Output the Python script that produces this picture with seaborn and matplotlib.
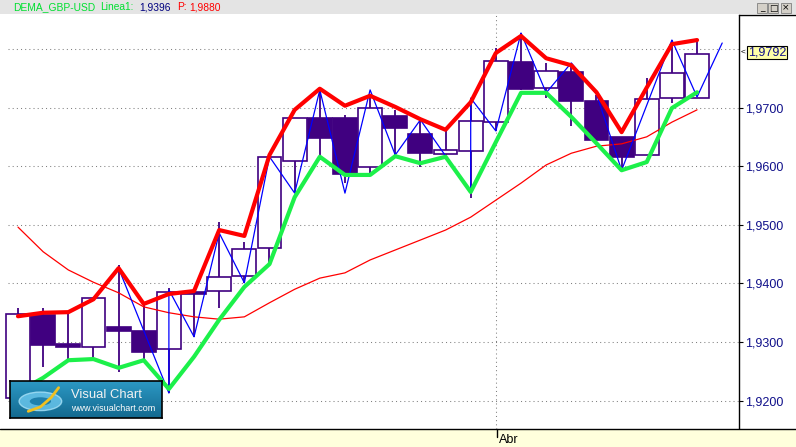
import numpy as np
import pandas as pd
import seaborn as sns
import matplotlib.pyplot as plt
from matplotlib.patches import Rectangle, Ellipse
from matplotlib.lines import Line2D
from matplotlib.ticker import FuncFormatter

# ---- data (GBP-USD daily bars) ----
opens = [1.9205, 1.9346, 1.9297, 1.9292, 1.9326, 1.9319, 1.9288, 1.9385, 1.9387, 1.9413,
         1.9460, 1.9609, 1.9682, 1.9682, 1.9599, 1.9686, 1.9655, 1.9621, 1.9626, 1.9675,
         1.9778, 1.9733, 1.9761, 1.9711, 1.9650, 1.9619, 1.9716, 1.9716]
highs = [1.9358, 1.9358, 1.9351, 1.9376, 1.9431, 1.9363, 1.9392, 1.9389, 1.9505, 1.9471,
         1.9616, 1.9682, 1.9730, 1.9687, 1.9721, 1.9696, 1.9679, 1.9662, 1.9716, 1.9801,
         1.9827, 1.9776, 1.9776, 1.9721, 1.9650, 1.9750, 1.9815, 1.9815]
lows = [1.9203, 1.9257, 1.9269, 1.9271, 1.9249, 1.9269, 1.9213, 1.9309, 1.9358, 1.9401,
        1.9435, 1.9554, 1.9610, 1.9571, 1.9589, 1.9619, 1.9599, 1.9619, 1.9546, 1.9660,
        1.9730, 1.9716, 1.9668, 1.9645, 1.9592, 1.9619, 1.9708, 1.9716]
closes = [1.9348, 1.9295, 1.9292, 1.9375, 1.9319, 1.9283, 1.9385, 1.9382, 1.9411, 1.9459,
          1.9616, 1.9682, 1.9648, 1.9587, 1.9699, 1.9665, 1.9622, 1.9628, 1.9677, 1.9779,
          1.9732, 1.9762, 1.9711, 1.9645, 1.9616, 1.9714, 1.9759, 1.9792]

dema_upper = [1.9344, 1.9350, 1.9351, 1.9373, 1.9426, 1.9365, 1.9382, 1.9387, 1.9491, 1.9481,
              1.9619, 1.9696, 1.9732, 1.9703, 1.9720, 1.9701, 1.9680, 1.9662, 1.9709, 1.9793,
              1.9822, 1.9784, 1.9772, 1.9726, 1.9658, 1.9734, 1.9808, 1.9815]
dema_lower = [1.9215, 1.9239, 1.9269, 1.9271, 1.9256, 1.9269, 1.9220, 1.9275, 1.9338, 1.9394,
              1.9433, 1.9547, 1.9616, 1.9585, 1.9585, 1.9617, 1.9605, 1.9616, 1.9556, 1.9641,
              1.9725, 1.9725, 1.9684, 1.9639, 1.9593, 1.9607, 1.9699, 1.9726]
dema_mid = [1.9496, 1.9454, 1.9423, 1.9402, 1.9384, 1.9360, 1.9350, 1.9343, 1.9339, 1.9343,
            1.9367, 1.9390, 1.9409, 1.9418, 1.9440, 1.9457, 1.9474, 1.9491, 1.9513, 1.9542,
            1.9571, 1.9602, 1.9622, 1.9634, 1.9638, 1.9650, 1.9675, 1.9696]

# Linea1 zigzag: bar position and price of each turning point
linea_bar = [4, 6, 6, 7, 8, 9, 10, 11, 12, 13, 14, 15, 16, 18, 18, 19, 20, 21, 22, 23, 24, 26, 27, 28]
linea_val = [1.9426, 1.9213, 1.9389, 1.9309, 1.9486, 1.9401, 1.9616, 1.9554, 1.9730, 1.9554,
             1.9730, 1.9619, 1.9679, 1.9556, 1.9716, 1.9660, 1.9827, 1.9725, 1.9776, 1.9723,
             1.9593, 1.9815, 1.9718, 1.9810]

month_bar = 19
month_label = "Abr"
price_ticks = [1.92, 1.93, 1.94, 1.95, 1.96, 1.97]
grid_levels = [1.92, 1.93, 1.94, 1.95, 1.96, 1.97, 1.98]
last_price = closes[-1]

PURPLE = "#400080"
W, H = 796, 447
BOTTOM = 429  # pixel row of the date axis line

sns.set_style("white")
plt.rcParams["font.family"] = ["Liberation Sans", "DejaVu Sans"]


def fx(x):
    return x / W


def fy(y):
    return 1 - y / H


fig = plt.figure(figsize=(W / 100, H / 100), dpi=100)
fig.patch.set_facecolor("white")

# title strip and date strip
fig.patches.append(Rectangle((0, fy(14)), 1, 14 / H, transform=fig.transFigure,
                             facecolor="#e4e4e4", edgecolor="none", zorder=0))
fig.patches.append(Rectangle((0, 0), 1, (H - BOTTOM) / H, transform=fig.transFigure,
                             facecolor="#ffffdc", edgecolor="none", zorder=0))

ax = fig.add_axes([0, (H - BOTTOM) / H, 739 / W, (BOTTOM - 15) / H])
ax.set_facecolor("white")

# pixel layout: bar i sits at x = 18 + 25.15*i, price 1.92 at row 400.7, 5864 px per unit
step = 25.15
ax.set_xlim(-18 / step, (739 - 18) / step)
ax.set_ylim(1.92 + (400.7 - BOTTOM) / 5864, 1.92 + (400.7 - 15) / 5864)

# grid
ax.hlines(grid_levels, -10 / step, (739 - 18) / step, colors="#808080",
          linestyles=(0, (1, 3)), lw=0.75, zorder=1)
ax.axvline(month_bar, color="#808080", ls=(0, (1, 3)), lw=0.75, zorder=1)

# candles
df = pd.DataFrame({"o": opens, "h": highs, "l": lows, "c": closes})
df["i"] = np.arange(len(df))
up = df["c"] >= df["o"]
ax.vlines(df["i"], df["l"], df["h"], color=PURPLE, lw=1.3, zorder=2)
ax.bar(df["i"][up], (df["c"] - df["o"])[up], bottom=df["o"][up], width=0.95,
       facecolor="white", edgecolor=PURPLE, lw=1.2, zorder=2.5)
ax.bar(df["i"][~up], (df["c"] - df["o"])[~up], bottom=df["o"][~up], width=0.95,
       facecolor=PURPLE, edgecolor=PURPLE, lw=1.2, zorder=2.5)

# indicator lines
sns.lineplot(x=df["i"], y=dema_mid, ax=ax, color="#ff0000", lw=0.9, zorder=3)
sns.lineplot(x=linea_bar, y=linea_val, ax=ax, color="#0000ff", lw=0.9,
             sort=False, estimator=None, zorder=4)
sns.lineplot(x=df["i"], y=dema_lower, ax=ax, color="#1cf04a", lw=3.0, zorder=5)
sns.lineplot(x=df["i"], y=dema_upper, ax=ax, color="#ff0000", lw=3.0, zorder=6)

# axes styling
for s in ["left", "top", "bottom"]:
    ax.spines[s].set_visible(False)
ax.spines["right"].set_color("black")
ax.spines["right"].set_linewidth(1.0)
ax.yaxis.tick_right()
ax.set_yticks(price_ticks)
ax.yaxis.set_major_formatter(FuncFormatter(lambda v, p: f"{v:.4f}".replace(".", ",")))
ax.tick_params(axis="y", length=3, width=0.8, color="black", labelcolor="#10108a",
               labelsize=9, pad=1.5)
ax.set_xticks([])
ax.set_xlabel("")
ax.set_ylabel("")

# frame lines
fig.add_artist(Line2D([0, 1], [fy(BOTTOM), fy(BOTTOM)], color="black", lw=1.0,
                      transform=fig.transFigure))
fig.add_artist(Line2D([fx(739), 1], [fy(15), fy(15)], color="black", lw=1.0,
                      transform=fig.transFigure))
fig.add_artist(Line2D([fx(497), fx(497)], [fy(BOTTOM), fy(BOTTOM + 8)], color="black", lw=1.0,
                      transform=fig.transFigure))
fig.text(fx(498.5), fy(440), month_label, fontsize=9, color="black", va="center", ha="left")

# title
title_parts = [("DEMA_GBP-USD", 13, "#00e030"), ("Linea1:", 100, "#00e030"),
               ("1,9396", 139, "#000080"), ("P:", 177, "#ff0000"), ("1,9880", 189, "#ff0000")]
for txt, x, col in title_parts:
    fig.text(fx(x), fy(7.5), txt, fontsize=7.4, color=col, va="center", ha="left")

# window buttons
for x0, sym in [(757, "_"), (768, "□"), (781, "×")]:
    fig.patches.append(Rectangle((fx(x0), fy(13)), 10 / W, 10 / H, transform=fig.transFigure,
                                 facecolor="#d4d0c8", edgecolor="#808080", lw=0.6))
    fig.text(fx(x0 + 5), fy(8), sym, fontsize=6.5, ha="center", va="center",
             family=["DejaVu Sans"], color="black")

# last price marker
fig.patches.append(Rectangle((fx(747), fy(59)), 40 / W, 13 / H, transform=fig.transFigure,
                             facecolor="#ffffa8", edgecolor="black", lw=0.8, zorder=5))
fig.text(fx(767), fy(52.5), f"{last_price:.4f}".replace(".", ","), fontsize=9,
         color="#10108a", ha="center", va="center", zorder=6)
fig.text(fx(743), fy(52), "<", fontsize=6, color="black", ha="center", va="center")

# logo
lax = fig.add_axes([fx(10), fy(418), 152 / W, 37 / H])
grad = np.linspace(0, 1, 64).reshape(-1, 1)
lax.imshow(grad, aspect="auto", cmap=sns.blend_palette(["#2c98c4", "#13698f"], as_cmap=True),
           extent=[0, 1, 0, 1], origin="upper")
lax.set_xlim(0, 1)
lax.set_ylim(0, 1)
lax.set_xticks([])
lax.set_yticks([])
for s in lax.spines.values():
    s.set_color("black")
    s.set_linewidth(1.2)
lax.add_patch(Ellipse((0.2, 0.45), 0.28, 0.5, facecolor="#6cc8ee", edgecolor="#a8e2f8",
                      lw=1.0, alpha=0.8))
lax.add_patch(Ellipse((0.2, 0.45), 0.14, 0.22, facecolor="#1f80ac", edgecolor="none"))
lax.plot([0.12, 0.2, 0.27, 0.32], [0.18, 0.3, 0.55, 0.82], color="#f0c020", lw=2.0)
lax.text(0.40, 0.63, "Visual Chart", color="#f2f2f2", fontsize=9.4, va="center", ha="left")
lax.text(0.40, 0.25, "www.visualchart.com", color="white", fontsize=6.5, va="center", ha="left")

fig.savefig("out.png", dpi=100)
